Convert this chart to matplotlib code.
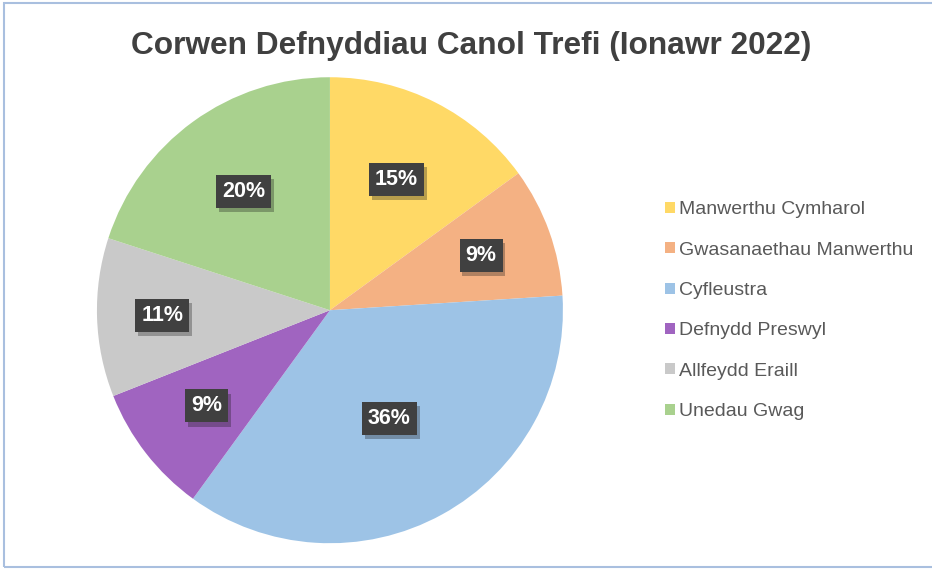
import matplotlib.pyplot as plt
import matplotlib.patheffects as pe
from matplotlib.patches import Rectangle
import numpy as np

plt.rcParams['font.family'] = ['Liberation Sans', 'DejaVu Sans']

# data
categories = ['Manwerthu Cymharol', 'Gwasanaethau Manwerthu', 'Cyfleustra',
              'Defnydd Preswyl', 'Allfeydd Eraill', 'Unedau Gwag']
values = [15, 9, 36, 9, 11, 20]
colors = ['#FFD966', '#F4B183', '#9DC3E6', '#A064C0', '#C9C9C9', '#A9D18E']

# label distance from centre for each slice (fraction of radius)
label_dist = [0.63, 0.69, 0.53, 0.67, 0.72, 0.63]

fig = plt.figure(figsize=(9.32, 5.70), dpi=100)
fig.patch.set_facecolor('white')
fig.add_artist(Rectangle((0.004, 0.005), 1.1, 0.99, transform=fig.transFigure,
                         fill=False, edgecolor='#A9BFDF', linewidth=1.5))

ax = fig.add_axes([0.104, 0.047, 0.5, 0.8175])
wedges, _ = ax.pie(values, colors=colors, startangle=90, counterclock=False,
                   radius=1, wedgeprops=dict(linewidth=0))
ax.set_xlim(-1, 1)
ax.set_ylim(-1, 1)
ax.set_aspect('equal')

for w, v, d in zip(wedges, values, label_dist):
    ang = np.deg2rad((w.theta1 + w.theta2) / 2)
    t = ax.text(d * np.cos(ang), d * np.sin(ang), f'{v}%', ha='center', va='center',
                fontsize=15.5, fontweight='bold', color='white',
                bbox=dict(boxstyle='square,pad=0.28', facecolor='#404040', edgecolor='none'))
    t.get_bbox_patch().set_path_effects([pe.SimplePatchShadow(offset=(2, -3), alpha=0.3),
                                         pe.Normal()])

fig.text(0.506, 0.92, 'Corwen Defnyddiau Canol Trefi (Ionawr 2022)', ha='center',
         va='center', fontsize=22.8, fontweight='bold', color='#404040')

leg = fig.legend(wedges, categories, loc='center left', bbox_to_anchor=(0.705, 0.455),
                 frameon=False, fontsize=14, handlelength=0.5, handleheight=0.5,
                 handletextpad=0.25, labelspacing=1.2, borderaxespad=0)
for txt in leg.get_texts():
    txt.set_color('#595959')

plt.savefig('out.png', dpi=100)
